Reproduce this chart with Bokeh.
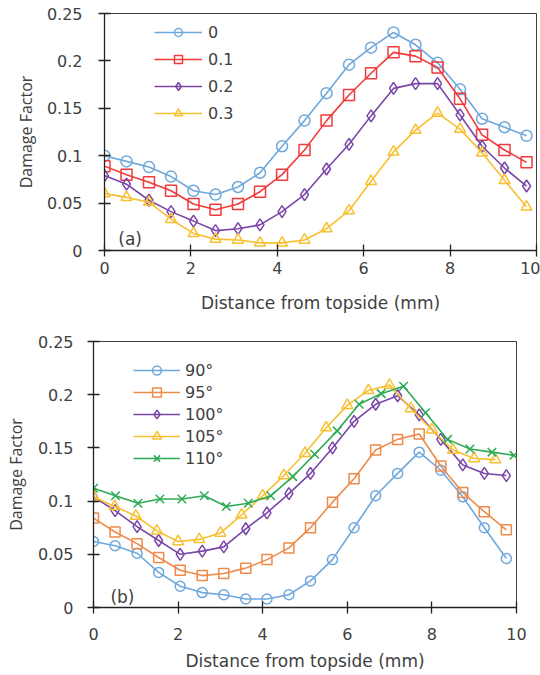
from bokeh.plotting import figure
from bokeh.models import Range1d, FixedTicker, Legend, LegendItem, Label
from bokeh.embed import file_html
from bokeh.resources import INLINE

# ---------------- data ----------------
x_ticks = [0, 2, 4, 6, 8, 10]
x_tick_labels = ["0", "2", "4", "6", "8", "10"]
y_ticks = [0, 0.05, 0.1, 0.15, 0.2, 0.25]
y_tick_labels = ["0", "0.05", "0.1", "0.15", "0.2", "0.25"]

# (a) series
xa = [0, 0.51, 1.03, 1.54, 2.06, 2.57, 3.09, 3.6, 4.11, 4.63,
      5.14, 5.66, 6.17, 6.69, 7.2, 7.71, 8.23, 8.74, 9.26, 9.77]
a_labels = ["0", "0.1", "0.2", "0.3"]
a_0 = [0.100, 0.094, 0.088, 0.078, 0.063, 0.059, 0.067, 0.082, 0.110, 0.137,
       0.166, 0.196, 0.214, 0.230, 0.217, 0.198, 0.170, 0.139, 0.130, 0.121]
a_01 = [0.089, 0.080, 0.072, 0.063, 0.049, 0.043, 0.049, 0.062, 0.080, 0.106,
        0.137, 0.164, 0.187, 0.209, 0.205, 0.193, 0.160, 0.122, 0.106, 0.093]
a_02 = [0.079, 0.070, 0.053, 0.041, 0.031, 0.021, 0.023, 0.027, 0.041, 0.059,
        0.086, 0.112, 0.142, 0.171, 0.176, 0.176, 0.143, 0.110, 0.087, 0.068]
a_03 = [0.060, 0.056, 0.051, 0.033, 0.018, 0.012, 0.011, 0.008, 0.008, 0.011,
        0.023, 0.042, 0.073, 0.104, 0.127, 0.145, 0.128, 0.103, 0.074, 0.046]

# (b) series
xb = [0, 0.51, 1.03, 1.54, 2.05, 2.57, 3.08, 3.6, 4.1, 4.62,
      5.13, 5.65, 6.16, 6.67, 7.19, 7.7, 8.21, 8.73, 9.24, 9.76]
xb_105 = [0, 0.5, 1.0, 1.5, 2.0, 2.5, 3.0, 3.5, 4.0, 4.5,
          5.0, 5.5, 6.0, 6.5, 7.0, 7.5, 8.0, 8.5, 9.0, 9.5]
xb_110 = [0, 0.52, 1.05, 1.57, 2.09, 2.62, 3.14, 3.66, 4.19, 4.71,
          5.23, 5.76, 6.28, 6.8, 7.33, 7.85, 8.37, 8.9, 9.42, 9.94]
b_labels = ["90°", "95°", "100°", "105°", "110°"]
b_90 = [0.062, 0.058, 0.051, 0.033, 0.020, 0.014, 0.012, 0.008, 0.008, 0.012,
        0.025, 0.045, 0.075, 0.105, 0.126, 0.146, 0.129, 0.104, 0.075, 0.046]
b_95 = [0.084, 0.071, 0.060, 0.047, 0.035, 0.030, 0.032, 0.037, 0.045, 0.056,
        0.075, 0.099, 0.121, 0.148, 0.158, 0.163, 0.133, 0.108, 0.090, 0.073]
b_100 = [0.104, 0.091, 0.076, 0.063, 0.050, 0.053, 0.057, 0.074, 0.089, 0.107,
         0.126, 0.150, 0.175, 0.191, 0.199, 0.181, 0.158, 0.134, 0.126, 0.124]
b_105 = [0.104, 0.095, 0.086, 0.072, 0.062, 0.064, 0.070, 0.087, 0.105, 0.124,
         0.145, 0.169, 0.190, 0.204, 0.209, 0.187, 0.167, 0.148, 0.140, 0.139]
b_110 = [0.112, 0.105, 0.098, 0.102, 0.102, 0.105, 0.095, 0.098, 0.105, 0.123,
         0.144, 0.166, 0.191, 0.201, 0.208, 0.183, 0.158, 0.149, 0.146, 0.143]

x_title = "Distance from topside (mm)"
y_title = "Damage Factor"

# ---------------- styling ----------------
TXT = "#404040"
TICK_FONT = "DejaVu Sans"


def make_fig(height, left, right, top, bottom, ylab_standoff, ytick_standoff,
             xtick_standoff, xlab_standoff):
    p = figure(width=540, height=height, output_backend="svg", toolbar_location=None,
               x_range=Range1d(0, 10), y_range=Range1d(0, 0.25),
               min_border_left=left, min_border_right=right,
               min_border_top=top, min_border_bottom=bottom)
    p.xgrid.visible = False
    p.ygrid.visible = False
    p.outline_line_color = "#404040"
    p.outline_line_width = 1
    p.background_fill_color = "white"
    p.border_fill_color = "white"

    p.xaxis.ticker = FixedTicker(ticks=x_ticks)
    p.xaxis.major_label_overrides = dict(zip(x_ticks, x_tick_labels))
    p.yaxis.ticker = FixedTicker(ticks=y_ticks)
    p.yaxis.major_label_overrides = dict(zip(y_ticks, y_tick_labels))
    for ax in (p.xaxis[0], p.yaxis[0]):
        ax.axis_line_color = "#222222"
        ax.axis_line_width = 1.3
        ax.major_tick_line_color = "#222222"
        ax.major_tick_line_width = 1.3
        ax.major_tick_in = 6
        ax.major_tick_out = 6
        ax.minor_tick_line_color = None
        ax.major_label_text_font = TICK_FONT
        ax.major_label_text_font_size = "16px"
        ax.major_label_text_color = TXT
    p.xaxis.major_label_standoff = xtick_standoff
    p.yaxis.major_label_standoff = ytick_standoff
    p.xaxis.axis_label = x_title
    p.xaxis.axis_label_text_font = TICK_FONT
    p.xaxis.axis_label_text_font_size = "17px"
    p.xaxis.axis_label_text_font_style = "normal"
    p.xaxis.axis_label_text_color = TXT
    p.xaxis.axis_label_standoff = xlab_standoff
    p.yaxis.axis_label = y_title
    p.yaxis.axis_label_text_font = "Open Sans"
    p.yaxis.axis_label_text_font_size = "16px"
    p.yaxis.axis_label_text_font_style = "normal"
    p.yaxis.axis_label_text_color = TXT
    p.yaxis.axis_label_standoff = ylab_standoff
    return p


def add_series(p, xs, ys, color, marker, size):
    lr = p.line(xs, ys, line_color=color, line_width=1.6)
    mr = p.scatter(xs, ys, marker=marker, size=size, line_color=color,
                   fill_color=None, line_width=1.5)
    return [lr, mr]


# ---------------- (a) ----------------
pa = make_fig(328, 104, 4, 13, 78, 7, 16, 5, 16)
a_series = [a_0, a_01, a_02, a_03]
a_colors = ["#6FA8DC", "#F23A3A", "#7A45A8", "#F8C030"]
a_markers = ["circle", "square", "diamond", "triangle"]
a_sizes = [11, 11, 12, 11]
a_items = []
for lab, ys, c, m, s in zip(a_labels, a_series, a_colors, a_markers, a_sizes):
    a_items.append(LegendItem(label=lab, renderers=add_series(pa, xa, ys, c, m, s)))
leg_a = Legend(items=a_items, location=(50, 127), padding=0, spacing=7,
               glyph_width=48, glyph_height=20, label_height=20, label_standoff=6,
               label_text_font=TICK_FONT, label_text_font_size="16px",
               label_text_color=TXT, border_line_color=None,
               background_fill_alpha=0)
pa.add_layout(leg_a)
pa.add_layout(Label(x=0.32, y=0.012, text="(a)", text_font=TICK_FONT,
                    text_font_size="17px", text_color=TXT, text_baseline="middle"))

# ---------------- (b) ----------------
pb = make_fig(346, 93, 24, 13, 67, 8, 14, 14, 8)
b_x = [xb, xb, xb, xb_105, xb_110]
b_series = [b_90, b_95, b_100, b_105, b_110]
b_colors = ["#6FA8DC", "#EE8A4A", "#7A45A8", "#F8C030", "#2EAA55"]
b_markers = ["circle", "square", "diamond", "triangle", "x"]
b_sizes = [10, 10, 12, 11, 12]
b_items = []
for lab, xs, ys, c, m, s in zip(b_labels, b_x, b_series, b_colors, b_markers, b_sizes):
    b_items.append(LegendItem(label=lab, renderers=add_series(pb, xs, ys, c, m, s)))
leg_b = Legend(items=b_items, location=(40, 138), padding=0, spacing=0,
               glyph_width=47, glyph_height=22, label_height=22, label_standoff=5,
               label_text_font=TICK_FONT, label_text_font_size="16px",
               label_text_color=TXT, border_line_color=None,
               background_fill_alpha=0)
pb.add_layout(leg_b)
pb.add_layout(Label(x=0.4, y=0.0097, text="(b)", text_font=TICK_FONT,
                    text_font_size="17px", text_color=TXT, text_baseline="middle"))

open("out.html", "w").write(file_html([pa, pb], INLINE))
